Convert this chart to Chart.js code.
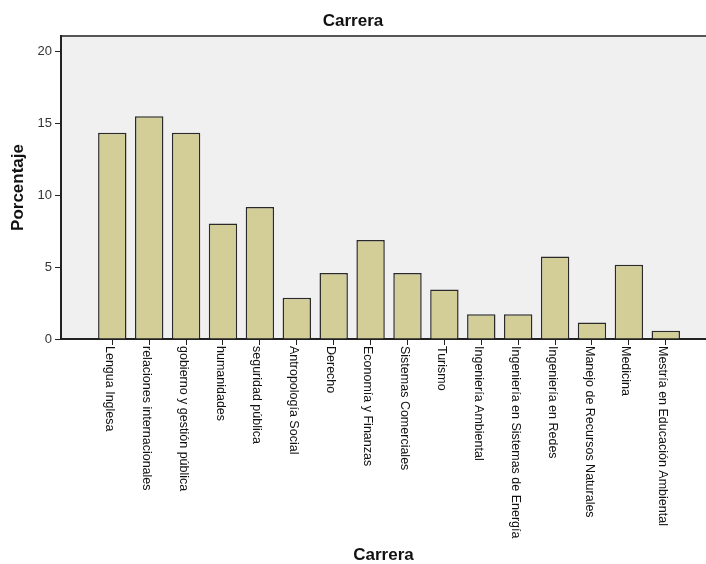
<!DOCTYPE html>
<html>
<head>
<meta charset="utf-8">
<script src="https://cdn.jsdelivr.net/npm/chart.js@4"></script>
<style>
  body { margin: 0; background: #fff; }
  canvas { display: block; }
</style>
</head>
<body>
<canvas id="carreraChart" width="706" height="564"></canvas>
<script>
// datos
const carreras = [
    "Lengua Inglesa", "relaciones internacionales", "gobierno y gestión pública",
    "humanidades", "seguridad pública", "Antropología Social", "Derecho",
    "Economía y Finanzas", "Sistemas Comerciales", "Turismo", "Ingeniería Ambiental",
    "Ingeniería en Sistemas de Energía", "Ingeniería en Redes",
    "Manejo de Recursos Naturales", "Medicina", "Mestría en Educación Ambiental"
];
const porcentajes = [14.37, 15.52, 14.37, 8.05, 9.20, 2.87, 4.60, 6.90, 4.60, 3.45, 1.72, 1.72, 5.75, 1.15, 5.17, 0.57];
const yTicks = [0, 5, 10, 15, 20];

const fontFam = '"Liberation Sans", Arial, sans-serif';

// fondo gris del area de grafico + linea superior
const fondoPlugin = {
    id: 'fondo',
    beforeDraw(chart) {
        const { ctx, chartArea: a } = chart;
        ctx.save();
        ctx.fillStyle = '#f0f0f0';
        ctx.fillRect(a.left, a.top, a.right - a.left, a.bottom - a.top);
        ctx.strokeStyle = '#555';
        ctx.lineWidth = 2;
        ctx.beginPath();
        ctx.moveTo(a.left, a.top);
        ctx.lineTo(a.right, a.top);
        ctx.stroke();
        ctx.restore();
    }
};

// etiquetas del eje x giradas hacia abajo
const etiquetasPlugin = {
    id: 'etiquetas',
    afterDraw(chart) {
        const { ctx } = chart;
        const xs = chart.scales.x;
        ctx.save();
        ctx.font = '12.5px ' + fontFam;
        ctx.fillStyle = '#111';
        ctx.textAlign = 'left';
        ctx.textBaseline = 'middle';
        carreras.forEach((c, i) => {
            const px = xs.getPixelForValue(i);
            ctx.save();
            ctx.translate(px - 3, xs.top + 7);
            ctx.rotate(Math.PI / 2);
            ctx.fillText(c, 0, 0);
            ctx.restore();
        });
        ctx.restore();
    }
};

const ctx = document.getElementById('carreraChart').getContext('2d');
const carreraChart = new Chart(ctx, {
    type: 'bar',
    data: {
        datasets: [{
            label: 'Porcentaje',
            data: porcentajes.map((v, i) => ({ x: i, y: v })),
            backgroundColor: '#d3ce97',
            borderColor: '#2a2a2a',
            borderWidth: 1.5,
            categoryPercentage: 1,
            barPercentage: 0.77
        }]
    },
    options: {
        responsive: false,
        animation: false,
        devicePixelRatio: 1,
        layout: { padding: { left: 0, right: 0, top: 0, bottom: 0 } },
        plugins: {
            legend: { display: false },
            tooltip: { enabled: false },
            title: {
                display: true,
                text: 'Carrera',
                color: '#111',
                font: { family: fontFam, size: 17, weight: 'bold', lineHeight: 1.2 },
                padding: { top: 11.5, bottom: 4.1 }
            }
        },
        scales: {
            x: {
                type: 'linear',
                offset: false,
                min: -1.39,
                max: 16.09,
                afterBuildTicks: (scale) => {
                    scale.ticks = carreras.map((_, i) => ({ value: i }));
                },
                afterFit: (scale) => { scale.height = 225; },
                ticks: { display: false },
                grid: {
                    display: true,
                    offset: false,
                    drawOnChartArea: false,
                    drawTicks: true,
                    tickLength: 6,
                    color: '#222'
                },
                border: { display: true, color: '#222', width: 2 },
                title: {
                    display: true,
                    text: 'Carrera',
                    color: '#111',
                    font: { family: fontFam, size: 17, weight: 'bold', lineHeight: 1 },
                    padding: { top: 0, bottom: 0 }
                }
            },
            y: {
                min: 0,
                max: 21.1,
                afterBuildTicks: (scale) => {
                    scale.ticks = yTicks.map(v => ({ value: v }));
                },
                afterFit: (scale) => { scale.width = 61; },
                ticks: {
                    color: '#333',
                    font: { family: fontFam, size: 13 },
                    padding: 3
                },
                grid: {
                    display: true,
                    drawOnChartArea: false,
                    drawTicks: true,
                    tickLength: 6,
                    color: '#222'
                },
                border: { display: true, color: '#222', width: 2 },
                title: {
                    display: true,
                    text: 'Porcentaje',
                    color: '#111',
                    font: { family: fontFam, size: 17, weight: 'bold', lineHeight: 1 },
                    padding: { top: 10, bottom: 0 }
                }
            }
        }
    },
    plugins: [fondoPlugin, etiquetasPlugin]
});
</script>
</body>
</html>
